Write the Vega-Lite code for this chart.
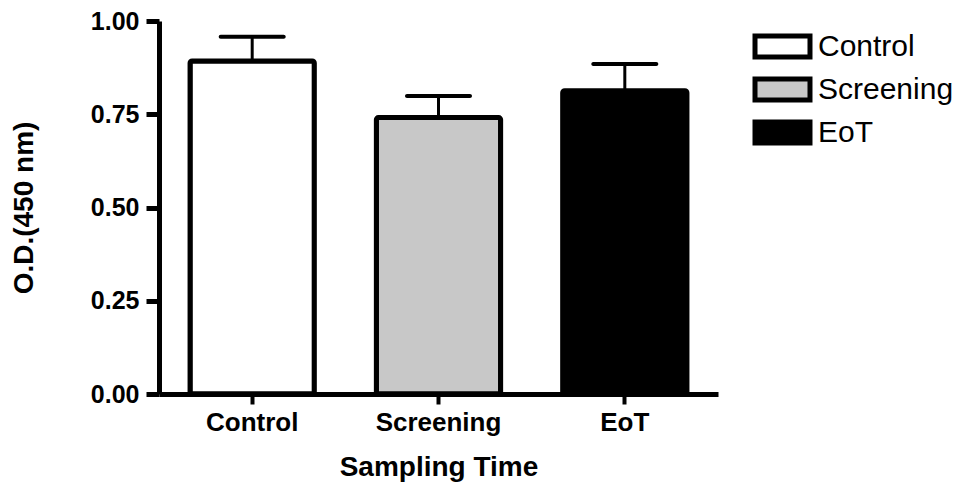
{
  "$schema": "https://vega.github.io/schema/vega-lite/v6.json",
  "width": 559,
  "height": 373,
  "autosize": {"type": "none"},
  "padding": {"left": 159, "top": 21, "right": 240, "bottom": 91},
  "background": "white",
  "config": {
    "view": {"stroke": null},
    "font": "Liberation Sans"
  },
  "data": {
    "values": [
      {"group": "Control", "od": 0.893, "upper": 0.958},
      {"group": "Screening", "od": 0.741, "upper": 0.799},
      {"group": "EoT", "od": 0.813, "upper": 0.885}
    ]
  },
  "encoding": {
    "x": {
      "field": "group",
      "type": "nominal",
      "sort": ["Control", "Screening", "EoT"],
      "scale": {"paddingInner": 0.333, "paddingOuter": 0.1667},
      "axis": {
        "title": "Sampling Time",
        "titleFont": "Liberation Sans",
        "titleFontSize": 28,
        "titleFontWeight": "bold",
        "titleColor": "black",
        "titleBaseline": "alphabetic",
        "titleY": 81,
        "labelFont": "Liberation Sans",
        "labelFontSize": 26,
        "labelFontWeight": "bold",
        "labelColor": "black",
        "labelAngle": 0,
        "labelPadding": 5,
        "tickSize": 10,
        "tickWidth": 4,
        "tickColor": "black",
        "domainColor": "black",
        "domainWidth": 5,
        "grid": false
      }
    }
  },
  "layer": [
    {
      "mark": {"type": "bar", "stroke": "black", "strokeWidth": 5, "cornerRadius": 2},
      "encoding": {
        "y": {
          "field": "od",
          "type": "quantitative",
          "scale": {"domain": [0, 1], "nice": false},
          "axis": {
            "title": "O.D.(450 nm)",
            "titleFont": "Liberation Sans",
            "titleFontSize": 28,
            "titleFontWeight": "bold",
            "titleColor": "black",
            "titleBaseline": "alphabetic",
            "titleX": -127,
            "values": [0, 0.25, 0.5, 0.75, 1],
            "format": ".2f",
            "labelFont": "Liberation Sans",
            "labelFontSize": 25,
            "labelFontWeight": "bold",
            "labelColor": "black",
            "labelPadding": 7,
            "labelFlush": false,
            "tickSize": 13,
            "tickWidth": 5,
            "tickColor": "black",
            "domainColor": "black",
            "domainWidth": 5,
            "grid": false
          }
        },
        "fill": {
          "field": "group",
          "type": "nominal",
          "sort": ["Control", "Screening", "EoT"],
          "scale": {"domain": ["Control", "Screening", "EoT"], "range": ["white", "#c8c8c8", "black"]},
          "legend": {
            "title": null,
            "orient": "none",
            "legendX": 606,
            "legendY": 8,
            "padding": 0,
            "symbolType": "M-1.833,-0.7H1.833V0.7H-1.833Z",
            "symbolSize": 900,
            "symbolStrokeColor": "black",
            "symbolStrokeWidth": 5,
            "symbolOpacity": 1,
            "labelFont": "Liberation Sans",
            "labelFontSize": 30,
            "labelColor": "black",
            "labelOffset": 18,
            "rowPadding": 2
          }
        }
      }
    },
    {
      "mark": {"type": "rule", "color": "black", "strokeWidth": 3},
      "encoding": {
        "y": {"field": "od", "type": "quantitative"},
        "y2": {"field": "upper"}
      }
    },
    {
      "mark": {"type": "tick", "color": "black", "thickness": 4, "size": 67, "cornerRadius": 2, "opacity": 1},
      "encoding": {
        "y": {"field": "upper", "type": "quantitative"}
      }
    }
  ]
}
